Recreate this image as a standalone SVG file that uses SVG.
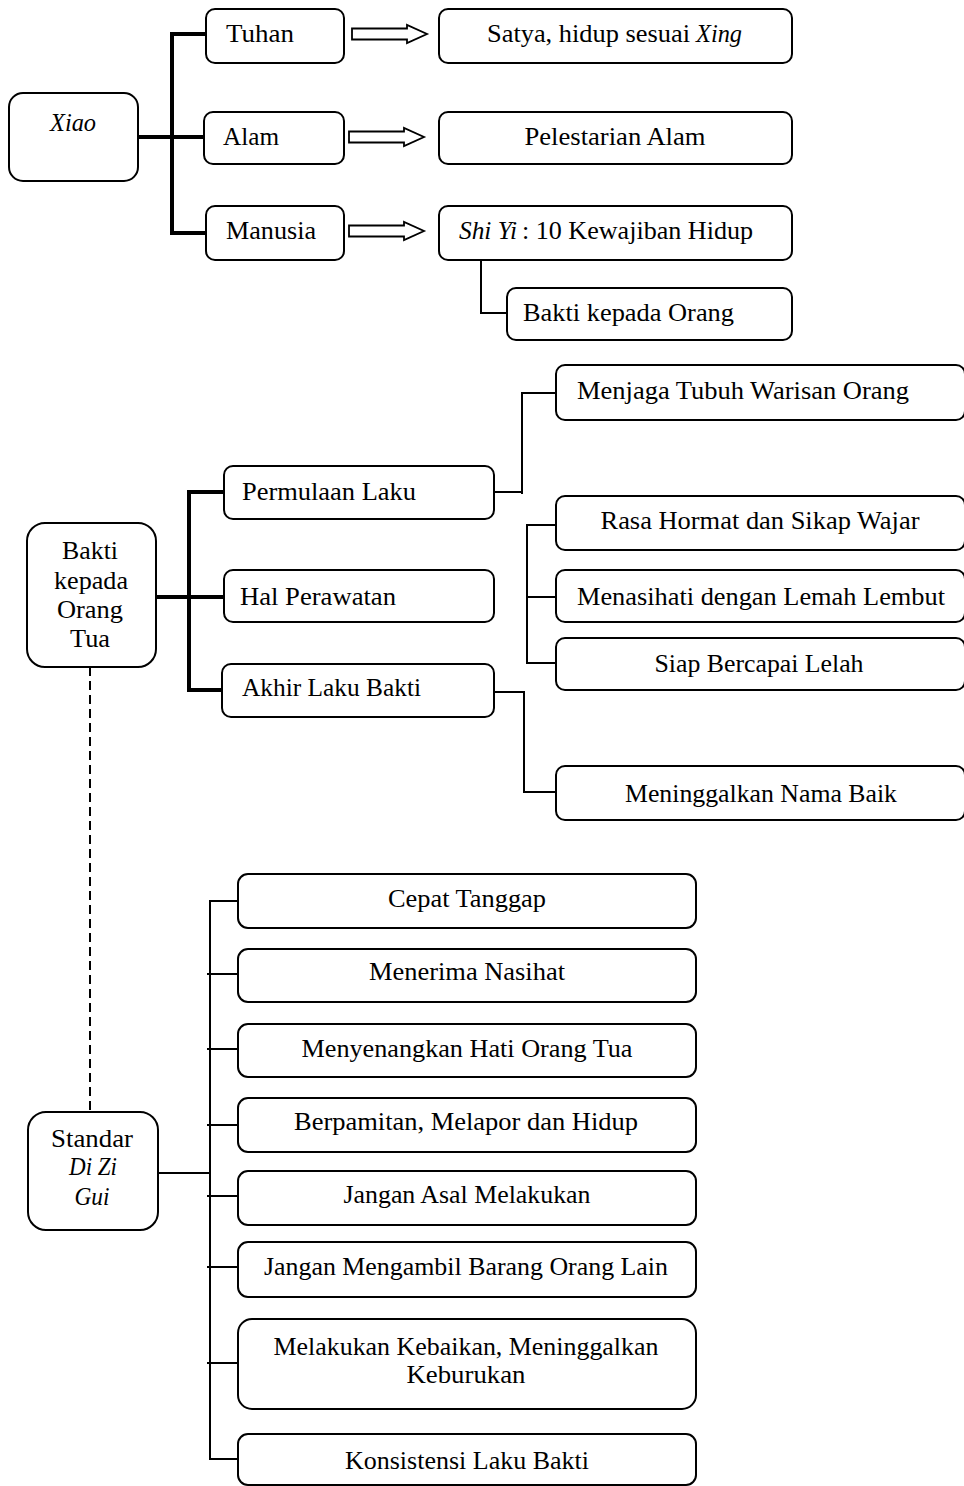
<svg xmlns="http://www.w3.org/2000/svg" width="964" height="1486" viewBox="0 0 964 1486">
  <style>
    .box { fill: #fff; stroke: #000; stroke-width: 2; }
    .t { font-family: "Liberation Serif", "DejaVu Serif", serif; font-size: 25px; fill: #000; }
    .c { text-anchor: middle; }
    .i { font-style: italic; }
    .thick { fill: none; stroke: #000; stroke-width: 4; }
    .thin { fill: none; stroke: #000; stroke-width: 2; }
    .dash { fill: none; stroke: #000; stroke-width: 2; stroke-dasharray: 9 5; }
    .arrow { fill: #fff; stroke: #000; stroke-width: 1.8; stroke-linejoin: miter; }
  </style>
  <defs>
    <!-- hollow block arrow, tip at origin -->
    <path id="blockArrow" class="arrow" d="M-75,-5.5 H-20 V-9 L0,0 L-20,9 V5.5 H-75 Z"/>
  </defs>

  <rect width="964" height="1486" fill="#fff"/>

  <!-- connectors -->
  <g id="connectors">
    <!-- Xiao tree -->
    <path class="thick" d="M138,137 H172 M172,34 V233 M170,34 H206 M172,137 H204 M170,233 H206"/>
    <use href="#blockArrow" x="427" y="34"/>
    <use href="#blockArrow" x="424" y="137"/>
    <use href="#blockArrow" x="424" y="231"/>
    <path class="thin" d="M481,260 V313 H507"/>

    <!-- Bakti kepada Orang Tua tree -->
    <path class="thick" d="M156,597 H189 M189,492 V690 M187,492 H224 M189,597 H224 M187,690 H222" stroke-width="3.5"/>
    <path class="thin" d="M494,492 H522 M522,393 V494 M521,393 H556"/>
    <path class="thin" d="M527,525 V663 M526,525 H556 M527,597 H556 M526,663 H556"/>
    <path class="thin" d="M494,692 H524 V792 H556"/>
    <path class="dash" d="M90,667 V1112"/>

    <!-- Standar Di Zi Gui tree -->
    <path class="thin" d="M158,1173 H210 M210,900 V1460 M209,901 H238 M207,974 H238 M207,1049 H238 M207,1125 H238 M207,1196 H238 M207,1267 H238 M207,1363 H238 M209,1459 H238" stroke-width="2.4"/>
  </g>

  <!-- top section -->
  <g id="xiao"><rect class="box" x="9" y="93" width="129" height="88" rx="14"/>
    <text class="t c i" x="73" y="131" textLength="46" lengthAdjust="spacingAndGlyphs">Xiao</text></g>
  <g id="tuhan"><rect class="box" x="206" y="9" width="138" height="54" rx="9"/>
    <text class="t" x="226" y="42" textLength="68" lengthAdjust="spacingAndGlyphs">Tuhan</text></g>
  <g id="alam"><rect class="box" x="204" y="112" width="140" height="52" rx="9"/>
    <text class="t" x="223" y="145" textLength="56" lengthAdjust="spacingAndGlyphs">Alam</text></g>
  <g id="manusia"><rect class="box" x="206" y="206" width="138" height="54" rx="9"/>
    <text class="t" x="226" y="239" textLength="90" lengthAdjust="spacingAndGlyphs">Manusia</text></g>
  <g id="satya"><rect class="box" x="439" y="9" width="353" height="54" rx="9"/>
    <text class="t" x="487" y="42" textLength="203" lengthAdjust="spacingAndGlyphs">Satya, hidup sesuai</text>
    <text class="t i" x="696" y="42" textLength="46" lengthAdjust="spacingAndGlyphs">Xing</text></g>
  <g id="pelestarian"><rect class="box" x="439" y="112" width="353" height="52" rx="9"/>
    <text class="t c" x="615" y="145" textLength="181" lengthAdjust="spacingAndGlyphs">Pelestarian Alam</text></g>
  <g id="shiyi"><rect class="box" x="439" y="206" width="353" height="54" rx="9"/>
    <text class="t i" x="459" y="239" textLength="58" lengthAdjust="spacingAndGlyphs">Shi Yi</text>
    <text class="t" x="522" y="239" textLength="231" lengthAdjust="spacingAndGlyphs">: 10 Kewajiban Hidup</text></g>
  <g id="bakti-orang"><rect class="box" x="507" y="288" width="285" height="52" rx="9"/>
    <text class="t" x="523" y="321" textLength="211" lengthAdjust="spacingAndGlyphs">Bakti kepada Orang</text></g>

  <!-- middle section -->
  <g id="bakti-orang-tua"><rect class="box" x="27" y="523" width="129" height="144" rx="18"/>
    <text class="t c" x="90" y="559" textLength="56" lengthAdjust="spacingAndGlyphs">Bakti</text>
    <text class="t c" x="91" y="589" textLength="74" lengthAdjust="spacingAndGlyphs">kepada</text>
    <text class="t c" x="90" y="618" textLength="66" lengthAdjust="spacingAndGlyphs">Orang</text>
    <text class="t c" x="90" y="647" textLength="40" lengthAdjust="spacingAndGlyphs">Tua</text></g>
  <g id="permulaan"><rect class="box" x="224" y="466" width="270" height="53" rx="9"/>
    <text class="t" x="242" y="500" textLength="174" lengthAdjust="spacingAndGlyphs">Permulaan Laku</text></g>
  <g id="perawatan"><rect class="box" x="224" y="570" width="270" height="52" rx="9"/>
    <text class="t" x="240" y="605" textLength="156" lengthAdjust="spacingAndGlyphs">Hal Perawatan</text></g>
  <g id="akhir"><rect class="box" x="222" y="664" width="272" height="53" rx="9"/>
    <text class="t" x="242" y="696" textLength="179" lengthAdjust="spacingAndGlyphs">Akhir Laku Bakti</text></g>
  <g id="menjaga"><rect class="box" x="556" y="365" width="409" height="55" rx="9"/>
    <text class="t" x="577" y="399" textLength="332" lengthAdjust="spacingAndGlyphs">Menjaga Tubuh Warisan Orang</text></g>
  <g id="rasa-hormat"><rect class="box" x="556" y="496" width="409" height="54" rx="9"/>
    <text class="t c" x="760" y="529" textLength="319" lengthAdjust="spacingAndGlyphs">Rasa Hormat dan Sikap Wajar</text></g>
  <g id="menasihati"><rect class="box" x="556" y="570" width="409" height="52" rx="9"/>
    <text class="t c" x="761" y="605" textLength="368" lengthAdjust="spacingAndGlyphs">Menasihati dengan Lemah Lembut</text></g>
  <g id="siap"><rect class="box" x="556" y="638" width="409" height="52" rx="9"/>
    <text class="t c" x="759" y="672" textLength="209" lengthAdjust="spacingAndGlyphs">Siap Bercapai Lelah</text></g>
  <g id="nama-baik"><rect class="box" x="556" y="766" width="409" height="54" rx="9"/>
    <text class="t c" x="761" y="802" textLength="272" lengthAdjust="spacingAndGlyphs">Meninggalkan Nama Baik</text></g>

  <!-- bottom section -->
  <g id="standar"><rect class="box" x="28" y="1112" width="130" height="118" rx="18"/>
    <text class="t c" x="92" y="1147" textLength="82" lengthAdjust="spacingAndGlyphs">Standar</text>
    <text class="t c i" x="93" y="1175" textLength="48" lengthAdjust="spacingAndGlyphs">Di Zi</text>
    <text class="t c i" x="92" y="1205" textLength="35" lengthAdjust="spacingAndGlyphs">Gui</text></g>
  <g id="cepat"><rect class="box" x="238" y="874" width="458" height="54" rx="10"/>
    <text class="t c" x="467" y="907" textLength="158" lengthAdjust="spacingAndGlyphs">Cepat Tanggap</text></g>
  <g id="menerima"><rect class="box" x="238" y="949" width="458" height="53" rx="10"/>
    <text class="t c" x="467" y="980" textLength="196" lengthAdjust="spacingAndGlyphs">Menerima Nasihat</text></g>
  <g id="menyenangkan"><rect class="box" x="238" y="1024" width="458" height="53" rx="10"/>
    <text class="t c" x="467" y="1057" textLength="331" lengthAdjust="spacingAndGlyphs">Menyenangkan Hati Orang Tua</text></g>
  <g id="berpamitan"><rect class="box" x="238" y="1098" width="458" height="54" rx="10"/>
    <text class="t c" x="466" y="1130" textLength="344" lengthAdjust="spacingAndGlyphs">Berpamitan, Melapor dan Hidup</text></g>
  <g id="asal"><rect class="box" x="238" y="1171" width="458" height="54" rx="10"/>
    <text class="t c" x="467" y="1203" textLength="247" lengthAdjust="spacingAndGlyphs">Jangan Asal Melakukan</text></g>
  <g id="mengambil"><rect class="box" x="238" y="1242" width="458" height="55" rx="10"/>
    <text class="t c" x="466" y="1275" textLength="404" lengthAdjust="spacingAndGlyphs">Jangan Mengambil Barang Orang Lain</text></g>
  <g id="kebaikan"><rect class="box" x="238" y="1319" width="458" height="90" rx="14"/>
    <text class="t c" x="466" y="1355" textLength="385" lengthAdjust="spacingAndGlyphs">Melakukan Kebaikan, Meninggalkan</text>
    <text class="t c" x="466" y="1383" textLength="119" lengthAdjust="spacingAndGlyphs">Keburukan</text></g>
  <g id="konsistensi"><rect class="box" x="238" y="1434" width="458" height="51" rx="10"/>
    <text class="t c" x="467" y="1469" textLength="244" lengthAdjust="spacingAndGlyphs">Konsistensi Laku Bakti</text></g>
</svg>
